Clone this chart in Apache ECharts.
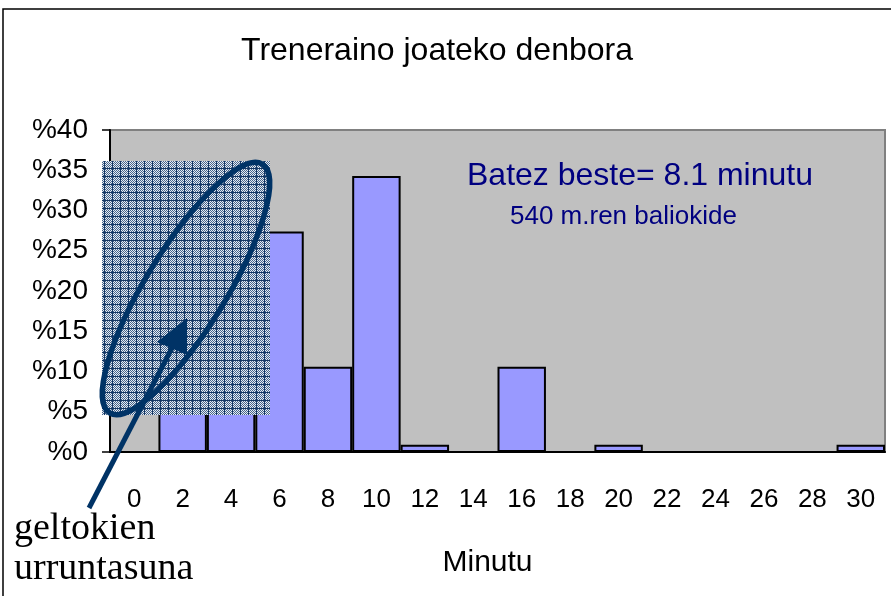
<!DOCTYPE html>
<html>
<head>
<meta charset="utf-8">
<script src="https://cdn.jsdelivr.net/npm/echarts@6/dist/echarts.min.js"></script>
<style>
html,body{margin:0;padding:0;background:#fff;}
#chart{width:891px;height:596px;}
</style>
</head>
<body>
<div id="chart"></div>
<script>
// Data
var categories = ['0','2','4','6','8','10','12','14','16','18','20','22','24','26','28','30'];
var percentValues = [0, 6.9, 7.5, 27.4, 10.6, 34.3, 0.9, 0, 10.6, 0, 0.9, 0, 0, 0, 0, 0.9];
var yTickLabels = ['%0','%5','%10','%15','%20','%25','%30','%35','%40'];
var titleText = 'Treneraino joateko denbora';
var xAxisName = 'Minutu';
var noteMain = 'Batez beste= 8.1 minutu';
var noteSub = '540 m.ren baliokide';
var annotLines = ['geltokien', 'urruntasuna'];

// hatch pattern canvas
function makePattern(){
  var c = document.createElement('canvas');
  c.width = 8; c.height = 8;
  var ctx = c.getContext('2d');
  var img = ctx.createImageData(8,8);
  for (var y=0;y<8;y++){
    for (var x=0;x<8;x++){
      var col = null;
      if (y===0 || x===0) col = [20,55,100];
      else if ((x+y)%2===0) col = [70,100,140];
      else col = [230,236,242];
      var i=(y*8+x)*4;
      img.data[i]=col[0]; img.data[i+1]=col[1]; img.data[i+2]=col[2];
      img.data[i+3]=255;
    }
  }
  ctx.putImageData(img,0,0);
  return c;
}

var chart = echarts.init(document.getElementById('chart'), null, {renderer:'canvas'});
var option = {
  animation: false,
  backgroundColor: '#ffffff',
  title: {
    text: titleText,
    left: 432, top: 30, textAlign: 'center',
    textStyle: {fontFamily: 'Liberation Sans', fontSize: 32, fontWeight: 'normal', color: '#000'}
  },
  grid: {
    left: 110, right: 6, top: 130, bottom: 144,
    show: true, backgroundColor: '#C0C0C0', borderColor: '#808080', borderWidth: 2
  },
  xAxis: {
    type: 'category',
    data: categories,
    name: xAxisName,
    nameLocation: 'middle',
    nameGap: 96,
    nameTextStyle: {fontFamily: 'Liberation Sans', fontSize: 30, color: '#000', padding:[0,20,0,0]},
    axisLine: {show: true, lineStyle: {color: '#000', width: 2}},
    axisTick: {show: false},
    axisLabel: {fontFamily: 'Liberation Sans', fontSize: 26, color: '#000', margin: 35, interval: 0},
    splitLine: {show: false}
  },
  yAxis: {
    type: 'value',
    min: 0, max: 40, interval: 5,
    axisLine: {show: true, lineStyle: {color: '#000', width: 2}},
    axisTick: {show: true, length: 8, inside: false, lineStyle: {color: '#000', width: 1.5}},
    axisLabel: {
      fontFamily: 'Liberation Sans', fontSize: 28, color: '#000', margin: 22,
      formatter: function(v){ return yTickLabels[Math.round(v/5)]; }
    },
    splitLine: {show: false}
  },
  series: [{
    type: 'bar',
    data: percentValues,
    barCategoryGap: '0%',
    itemStyle: {color: '#9999FF', borderColor: '#000', borderWidth: 2},
    z: 2
  }],
  graphic: [
    {type: 'rect', z: 200, silent: true, shape: {x: 3, y: 9, width: 900, height: 600},
     style: {fill: 'none', stroke: '#000', lineWidth: 1.5}},
    {type: 'text', z: 100, left: 467, top: 160,
     style: {text: noteMain, fontFamily: 'Liberation Sans', fontSize: 32, fill: '#000080'}},
    {type: 'text', z: 100, left: 510, top: 204,
     style: {text: noteSub, fontFamily: 'Liberation Sans', fontSize: 26, fill: '#000080'}},
    {type: 'rect', z: 150, silent: true, shape: {x: 102, y: 161, width: 168, height: 254},
     style: {fill: {image: makePattern(), repeat: 'repeat'}}},
    {type: 'ellipse', z: 160, silent: true, x: 186, y: 288.5, rotation: -0.55,
     shape: {cx: 0, cy: 0, rx: 40, ry: 146},
     style: {fill: 'none', stroke: '#003366', lineWidth: 5.5}},
    {type: 'line', z: 160, silent: true, shape: {x1: 89, y1: 508, x2: 173, y2: 346},
     style: {stroke: '#003366', lineWidth: 5}},
    {type: 'polygon', z: 160, silent: true, shape: {points: [[187,318],[157,342],[187,355]]},
     style: {fill: '#003366'}},
    {type: 'text', z: 100, left: 14, top: 510,
     style: {text: annotLines[0], fontFamily: 'Liberation Serif', fontSize: 38, fill: '#000'}},
    {type: 'text', z: 100, left: 14, top: 550,
     style: {text: annotLines[1], fontFamily: 'Liberation Serif', fontSize: 38, fill: '#000'}}
  ]
};
chart.setOption(option);
</script>
</body>
</html>
